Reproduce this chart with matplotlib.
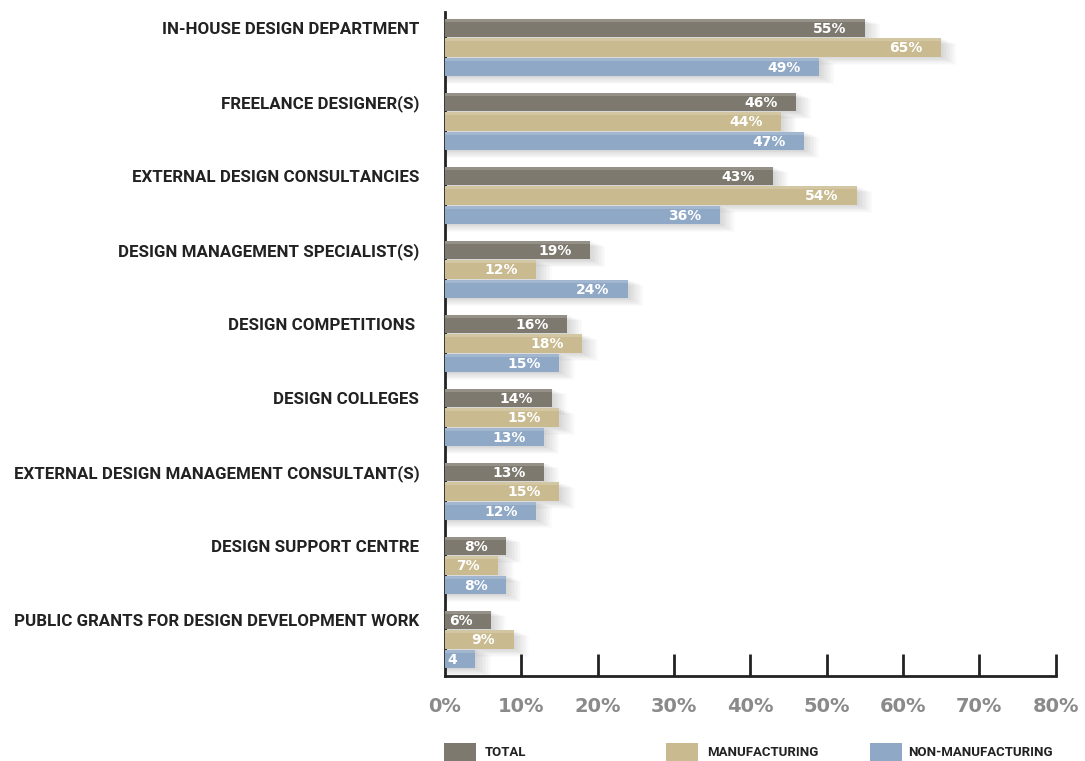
import matplotlib.pyplot as plt
from matplotlib.patches import Rectangle

plt.rcParams['font.family'] = ['Roboto', 'DejaVu Sans']
NUM_FONT = 'DejaVu Sans'

categories = [
    'IN-HOUSE DESIGN DEPARTMENT',
    'FREELANCE DESIGNER(S)',
    'EXTERNAL DESIGN CONSULTANCIES',
    'DESIGN MANAGEMENT SPECIALIST(S)',
    'DESIGN COMPETITIONS ',
    'DESIGN COLLEGES',
    'EXTERNAL DESIGN MANAGEMENT CONSULTANT(S)',
    'DESIGN SUPPORT CENTRE',
    'PUBLIC GRANTS FOR DESIGN DEVELOPMENT WORK',
]
total = [55, 46, 43, 19, 16, 14, 13, 8, 6]
manufacturing = [65, 44, 54, 12, 18, 15, 15, 7, 9]
non_manufacturing = [49, 47, 36, 24, 15, 13, 12, 8, 4]
value_labels_non = ['49%', '47%', '36%', '24%', '15%', '13%', '12%', '8%', '4']

series = [
    ('TOTAL', total, '#7e796f', None),
    ('MANUFACTURING', manufacturing, '#c9ba8f', None),
    ('NON-MANUFACTURING', non_manufacturing, '#8ea8c5', value_labels_non),
]

fig = plt.figure(figsize=(10.85, 7.61), dpi=100)
ax = fig.add_axes([0.410, 0.1117, 0.563, 0.8725])

step = 0.263
height = 0.245
for k, (name, vals, color, labels) in enumerate(series):
    ys = [i + k * step for i in range(len(vals))]
    # soft drop shadow behind each bar
    for s in range(1, 11):
        ax.barh([y + 0.009 * s for y in ys], [v + 0.2 * s for v in vals],
                height=height + 0.004 * s, color='#555555', alpha=0.025,
                zorder=1, lw=0)
    ax.barh(ys, vals, height=height, color=color, zorder=3, lw=0)
    # lighter top edge
    ax.barh([y - height * 0.42 for y in ys], vals, height=height * 0.16,
            color='white', alpha=0.18, zorder=4, lw=0)
    for y, v, i in zip(ys, vals, range(len(vals))):
        txt = labels[i] if labels else f'{v}%'
        ax.text(v - 2.4, y + 0.01, txt, ha='right', va='center', color='white',
                fontsize=10, fontweight='bold', family=NUM_FONT, zorder=5)

ax.set_xlim(0, 80)
ax.set_ylim(8.757, -0.216)
ax.set_yticks(range(len(categories)))
ax.set_yticklabels(categories, fontsize=12.2, fontweight='bold', color='#222222')
ax.tick_params(axis='y', length=0, pad=18.5)

ax.set_xticks(range(0, 81, 10))
ax.set_xticklabels([f'{t}%' for t in range(0, 81, 10)], fontsize=14,
                   fontweight='bold', color='#8a8a8a', family=NUM_FONT)
ax.tick_params(axis='x', direction='in', length=16, width=2, color='#222222', pad=15)
ax.xaxis.get_major_ticks()[0].tick1line.set_visible(False)

for side in ['top', 'right']:
    ax.spines[side].set_visible(False)
ax.spines['bottom'].set_linewidth(2)
ax.spines['left'].set_linewidth(2)
ax.spines['bottom'].set_color('#222222')
ax.spines['left'].set_color('#222222')

# legend along the bottom
W, H = 1085, 761
legend_pos = [(444, 485), (666, 707), (870, 908)]
for (name, vals, color, labels), (px, tx) in zip(series, legend_pos):
    fig.add_artist(Rectangle((px / W, 1 - 761 / H), 32 / W, 18 / H,
                             transform=fig.transFigure, color=color, lw=0))
    fig.text(tx / W, 1 - 752 / H, name, ha='left', va='center',
             fontsize=9.5, fontweight='bold', color='#222222')

fig.savefig('out.png', dpi=100)
